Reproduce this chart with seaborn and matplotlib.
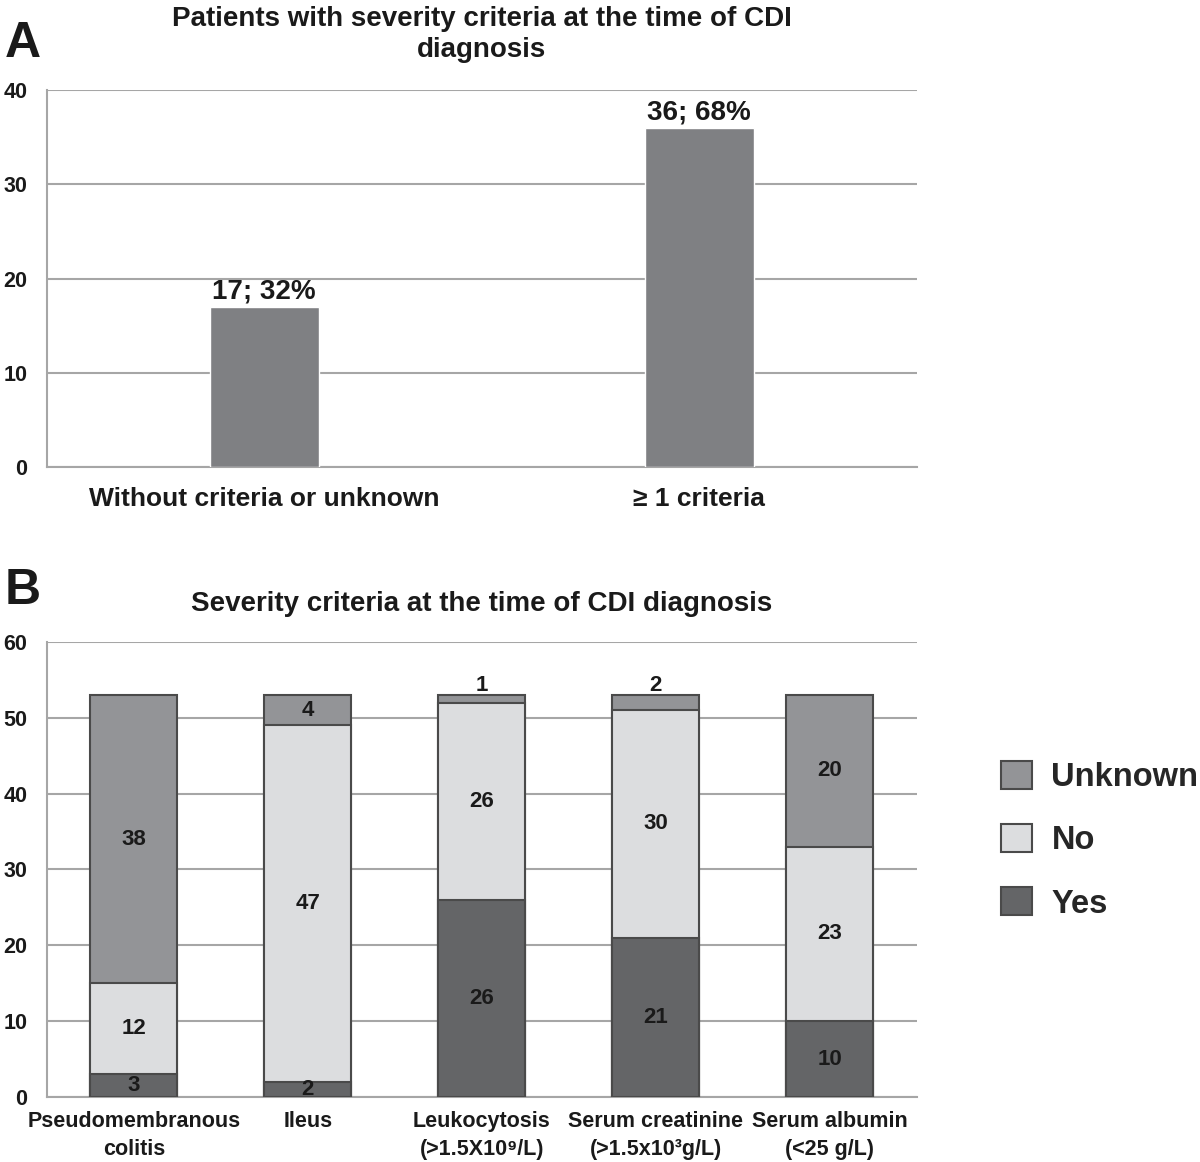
import matplotlib
matplotlib.use("Agg")
import matplotlib.pyplot as plt
import seaborn as sns
import numpy as np
from matplotlib.patches import Patch

# ---- data ----
a_categories = ["Without criteria or unknown", "\u2265 1 criteria"]
a_values = [17, 36]
a_labels = ["17; 32%", "36; 68%"]

b_categories = ["Pseudomembranous\ncolitis", "Ileus", "Leukocytosis\n(>1.5X10\u2079/L)",
                "Serum creatinine\n(>1.5x10\u00b3g/L)", "Serum albumin\n(<25 g/L)"]
b_yes = [3, 2, 26, 21, 10]
b_no = [12, 47, 26, 30, 23]
b_unknown = [38, 4, 1, 2, 20]
series_names = ["Unknown", "No", "Yes"]

sns.set_style("white")
plt.rcParams['font.family'] = ['Liberation Sans', 'DejaVu Sans']
plt.rcParams['font.weight'] = 'bold'

c_a = "#7f8083"
c_unknown = "#939497"
c_no = "#dcdddf"
c_yes = "#646567"
c_edge = "#4a4a4a"
c_grid = "#a6a6a6"
txt = "#1a1a1a"

fig = plt.figure(figsize=(12, 11.62), dpi=100)
axA = fig.add_axes([0.039, 0.598, 0.725, 0.3245])
axB = fig.add_axes([0.039, 0.056, 0.725, 0.3915])

# ---- Panel A ----
sns.barplot(x=a_categories, y=a_values, color=c_a, width=0.25, ax=axA,
            saturation=1, zorder=3)
axA.set_ylim(0, 40)
axA.set_xlim(-0.5, 1.5)
axA.set_yticks([0, 10, 20, 30, 40])
for i, (v, lab) in enumerate(zip(a_values, a_labels)):
    axA.text(i, v + 0.25, lab, ha='center', va='bottom', fontsize=20,
             fontweight='bold', color=txt)
axA.set_title("Patients with severity criteria at the time of CDI\ndiagnosis",
              fontsize=20, fontweight='bold', color=txt, pad=24, linespacing=1.25)

# ---- Panel B (stacked) ----
yes_arr = np.array(b_yes)
no_arr = np.array(b_no)
unk_arr = np.array(b_unknown)
tot = yes_arr + no_arr + unk_arr
sns.barplot(x=b_categories, y=tot, color=c_unknown, width=0.5, ax=axB,
            saturation=1, edgecolor=c_edge, linewidth=1.5, zorder=3)
sns.barplot(x=b_categories, y=yes_arr + no_arr, color=c_no, width=0.5, ax=axB,
            saturation=1, edgecolor=c_edge, linewidth=1.5, zorder=4)
sns.barplot(x=b_categories, y=yes_arr, color=c_yes, width=0.5, ax=axB,
            saturation=1, edgecolor=c_edge, linewidth=1.5, zorder=5)
axB.set_ylim(0, 60)
axB.set_xlim(-0.5, 4.5)
axB.set_yticks([0, 10, 20, 30, 40, 50, 60])

for i in range(len(b_categories)):
    y0 = 0
    for v in [b_yes[i], b_no[i], b_unknown[i]]:
        yc = y0 + v / 2
        if v <= 2 and y0 + v == tot[i]:
            yc = tot[i] + 1.3
        axB.text(i, yc, str(v), ha='center', va='center', fontsize=16,
                 fontweight='bold', color=txt, zorder=10)
        y0 += v
axB.set_title("Severity criteria at the time of CDI diagnosis",
              fontsize=20, fontweight='bold', color=txt, pad=22)

for ax, lsize in [(axA, 19), (axB, 15.5)]:
    ax.set_xlabel("")
    ax.set_ylabel("")
    ax.yaxis.grid(True, color=c_grid, linewidth=1.5, zorder=0)
    ax.set_axisbelow(True)
    for s in ['top', 'right']:
        ax.spines[s].set_visible(False)
    ax.spines['left'].set_color(c_grid)
    ax.spines['bottom'].set_color(c_grid)
    ax.spines['left'].set_linewidth(1.5)
    ax.spines['bottom'].set_linewidth(1.5)
    ax.tick_params(axis='both', length=0, colors=txt)
    for t in ax.get_yticklabels():
        t.set_fontsize(15.5)
        t.set_fontweight('bold')
    for t in ax.get_xticklabels():
        t.set_fontsize(lsize)
        t.set_fontweight('bold')
        t.set_linespacing(1.45)
axA.tick_params(axis='x', pad=14)
axA.tick_params(axis='y', pad=14)
axB.tick_params(axis='x', pad=10)
axB.tick_params(axis='y', pad=14)

# panel letters
fig.text(0.004, 0.962, "A", fontsize=36, fontweight='bold', color=txt, va='center')
fig.text(0.004, 0.491, "B", fontsize=36, fontweight='bold', color=txt, va='center')

# legend
handles = [Patch(facecolor=c, edgecolor=c_edge, linewidth=1.5)
           for c in [c_unknown, c_no, c_yes]]
fig.legend(handles, series_names, loc='center left', bbox_to_anchor=(0.834, 0.277),
           frameon=False, handlelength=0.95, handleheight=0.95,
           labelspacing=0.95, handletextpad=0.6, borderaxespad=0, borderpad=0,
           prop={'weight': 'bold', 'size': 23.5})

fig.savefig("out.png", dpi=100)
